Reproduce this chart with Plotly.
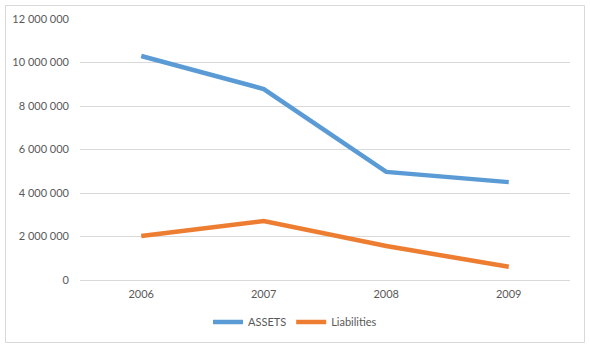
import plotly.graph_objects as go

years = ["2006", "2007", "2008", "2009"]
assets = [10300000, 8780000, 4970000, 4500000]
liabilities = [2020000, 2710000, 1560000, 610000]
y_ticks = [0, 2000000, 4000000, 6000000, 8000000, 10000000, 12000000]

fig = go.Figure()
fig.add_trace(go.Scatter(x=years, y=assets, mode="lines", name="ASSETS",
                         line=dict(color="#5B9BD5", width=4.5)))
fig.add_trace(go.Scatter(x=years, y=liabilities, mode="lines", name="Liabilities",
                         line=dict(color="#ED7D31", width=4.5)))

font_family = "Lato, 'Open Sans', Arial, sans-serif"
fig.update_layout(
    width=590, height=352,
    margin=dict(l=80, r=20, t=19, b=72, autoexpand=False),
    paper_bgcolor="white", plot_bgcolor="white",
    separators=". ",
    font=dict(family=font_family, size=11, color="#595959"),
    xaxis=dict(type="category", range=[-0.5, 3.5], showgrid=False,
               showline=True, linecolor="#D9D9D9", linewidth=1,
               ticks="", ticklabelstandoff=4, automargin=False,
               tickfont=dict(size=11, color="#595959"), fixedrange=True),
    yaxis=dict(range=[0, 12000000], tickvals=y_ticks, tickformat=",d",
               showgrid=True, gridcolor="#D9D9D9", gridwidth=1,
               zeroline=False, showline=False, ticks="",
               ticklabelstandoff=10, automargin=False,
               tickfont=dict(size=11, color="#595959")),
    legend=dict(orientation="h", xref="container", x=0.5, xanchor="center",
                yref="container", y=30/352, yanchor="middle",
                font=dict(size=11, color="#595959"), itemwidth=30,
                tracegroupgap=0),
    showlegend=True,
    shapes=[dict(type="rect", xref="paper", yref="paper",
                 x0=(5.5-80)/490, x1=(584.5-80)/490,
                 y0=(280-342.5)/261, y1=(280-5.5)/261,
                 line=dict(color="#D9D9D9", width=1), layer="below")],
)

fig.write_html("out.html")
